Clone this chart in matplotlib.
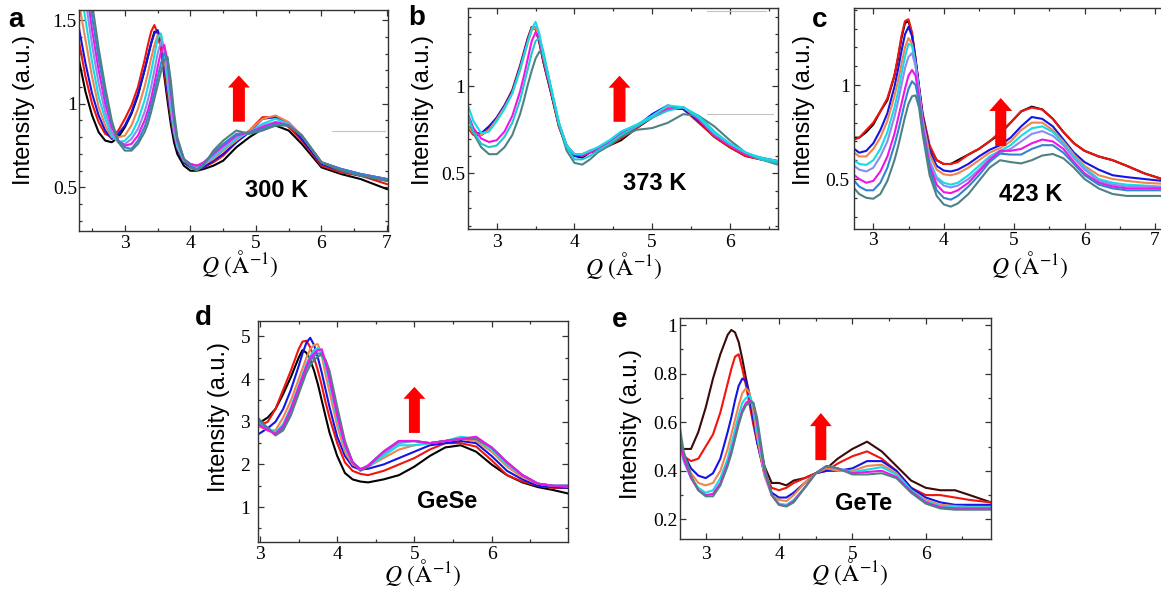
import matplotlib
matplotlib.use("Agg")
import matplotlib.pyplot as plt
from matplotlib.ticker import MultipleLocator, FixedLocator, FuncFormatter

# ---------------- data ----------------
# panel a : 300 K
Q_A = [2.3, 2.4, 2.5, 2.6, 2.7, 2.8, 2.9, 3.0, 3.1, 3.2, 3.3, 3.35, 3.4, 3.45, 3.5,
       3.55, 3.6, 3.65, 3.7, 3.75, 3.8, 3.9, 4.0, 4.1, 4.2, 4.35, 4.5, 4.7, 4.9, 5.1,
       5.3, 5.5, 5.7, 6.0, 6.3, 6.6, 7.0]
a_black = [1.26, 1.07, 0.93, 0.83, 0.78, 0.77, 0.80, 0.86, 0.94, 1.05, 1.20, 1.28, 1.36, 1.43, 1.43,
           1.33, 1.17, 1.02, 0.88, 0.77, 0.70, 0.63, 0.60, 0.60, 0.61, 0.63, 0.66, 0.74, 0.80, 0.85,
           0.87, 0.84, 0.76, 0.62, 0.58, 0.55, 0.49]
a_red = [1.37, 1.16, 1.00, 0.89, 0.82, 0.80, 0.84, 0.91, 0.99, 1.10, 1.26, 1.35, 1.43, 1.47, 1.42,
         1.33, 1.20, 1.06, 0.92, 0.81, 0.73, 0.65, 0.62, 0.61, 0.62, 0.65, 0.69, 0.77, 0.84, 0.92,
         0.92, 0.86, 0.78, 0.63, 0.59, 0.57, 0.52]
a_blue = [1.45, 1.24, 1.06, 0.93, 0.84, 0.79, 0.82, 0.87, 0.95, 1.06, 1.20, 1.28, 1.36, 1.42, 1.44,
          1.38, 1.24, 1.08, 0.93, 0.81, 0.73, 0.65, 0.62, 0.61, 0.62, 0.66, 0.70, 0.77, 0.83, 0.91,
          0.92, 0.88, 0.79, 0.64, 0.60, 0.57, 0.54]
a_orange = [1.60, 1.38, 1.16, 0.98, 0.87, 0.80, 0.80, 0.81, 0.87, 0.97, 1.10, 1.18, 1.27, 1.35, 1.41,
            1.40, 1.28, 1.12, 0.96, 0.83, 0.74, 0.66, 0.63, 0.63, 0.64, 0.67, 0.72, 0.78, 0.84, 0.91,
            0.93, 0.89, 0.81, 0.65, 0.61, 0.58, 0.54]
a_cyan = [1.75, 1.50, 1.25, 1.04, 0.91, 0.81, 0.77, 0.78, 0.82, 0.90, 1.02, 1.10, 1.19, 1.29, 1.39,
          1.42, 1.32, 1.15, 0.99, 0.85, 0.75, 0.66, 0.64, 0.63, 0.64, 0.68, 0.73, 0.79, 0.83, 0.88,
          0.91, 0.88, 0.81, 0.65, 0.61, 0.58, 0.55]
a_lavender = [1.90, 1.62, 1.35, 1.12, 0.95, 0.83, 0.77, 0.76, 0.79, 0.85, 0.95, 1.02, 1.10, 1.20, 1.30,
              1.37, 1.35, 1.20, 1.02, 0.87, 0.77, 0.67, 0.64, 0.63, 0.64, 0.69, 0.74, 0.80, 0.83, 0.87,
              0.89, 0.88, 0.81, 0.65, 0.61, 0.58, 0.55]
a_magenta = [2.00, 1.72, 1.44, 1.20, 1.00, 0.86, 0.78, 0.75, 0.76, 0.81, 0.90, 0.96, 1.03, 1.12, 1.22,
             1.31, 1.35, 1.26, 1.07, 0.90, 0.78, 0.67, 0.64, 0.63, 0.65, 0.70, 0.75, 0.81, 0.83, 0.86,
             0.89, 0.87, 0.81, 0.65, 0.61, 0.58, 0.55]
a_steel = [2.10, 1.80, 1.52, 1.27, 1.05, 0.88, 0.78, 0.74, 0.73, 0.78, 0.86, 0.92, 0.99, 1.07, 1.16,
           1.24, 1.30, 1.27, 1.10, 0.92, 0.79, 0.67, 0.63, 0.61, 0.64, 0.71, 0.76, 0.82, 0.83, 0.85,
           0.88, 0.87, 0.81, 0.65, 0.61, 0.58, 0.55]
a_gray = [2.20, 1.90, 1.60, 1.33, 1.10, 0.90, 0.77, 0.72, 0.72, 0.76, 0.83, 0.88, 0.95, 1.03, 1.11,
          1.19, 1.26, 1.28, 1.14, 0.95, 0.80, 0.67, 0.62, 0.60, 0.63, 0.72, 0.78, 0.84, 0.82, 0.84,
          0.87, 0.87, 0.81, 0.65, 0.60, 0.57, 0.54]

# panel b : 373 K
Q_B = [2.63, 2.7, 2.8, 2.9, 3.0, 3.1, 3.2, 3.3, 3.35, 3.4, 3.45, 3.5, 3.55, 3.6, 3.65,
       3.7, 3.8, 3.9, 4.0, 4.1, 4.2, 4.3, 4.45, 4.6, 4.8, 5.0, 5.2, 5.4, 5.6, 5.8,
       6.0, 6.2, 6.4, 6.62]
b_black = [0.77, 0.74, 0.72, 0.75, 0.81, 0.88, 0.97, 1.11, 1.19, 1.27, 1.34, 1.33, 1.25, 1.14, 1.05,
           0.96, 0.77, 0.65, 0.60, 0.59, 0.62, 0.63, 0.66, 0.69, 0.76, 0.82, 0.87, 0.87, 0.80, 0.71,
           0.65, 0.60, 0.58, 0.57]
b_red = [0.76, 0.72, 0.72, 0.76, 0.82, 0.89, 0.98, 1.12, 1.20, 1.28, 1.34, 1.33, 1.25, 1.14, 1.05,
         0.96, 0.77, 0.65, 0.60, 0.60, 0.62, 0.64, 0.66, 0.70, 0.76, 0.83, 0.88, 0.87, 0.79, 0.71,
         0.65, 0.60, 0.58, 0.56]
b_blue = [0.77, 0.73, 0.73, 0.77, 0.82, 0.89, 0.97, 1.11, 1.19, 1.27, 1.33, 1.34, 1.26, 1.15, 1.06,
          0.97, 0.78, 0.66, 0.60, 0.60, 0.63, 0.64, 0.67, 0.71, 0.77, 0.84, 0.89, 0.87, 0.80, 0.72,
          0.66, 0.61, 0.59, 0.57]
b_orange = [0.77, 0.73, 0.72, 0.75, 0.81, 0.88, 0.96, 1.09, 1.17, 1.25, 1.32, 1.34, 1.27, 1.16, 1.07,
            0.98, 0.78, 0.66, 0.61, 0.61, 0.63, 0.64, 0.67, 0.72, 0.77, 0.83, 0.88, 0.88, 0.81, 0.72,
            0.66, 0.61, 0.58, 0.57]
b_magenta = [0.84, 0.76, 0.70, 0.68, 0.69, 0.74, 0.83, 0.97, 1.06, 1.16, 1.26, 1.31, 1.28, 1.17, 1.07,
             0.98, 0.79, 0.66, 0.61, 0.60, 0.62, 0.64, 0.68, 0.73, 0.77, 0.82, 0.87, 0.88, 0.81, 0.72,
             0.66, 0.61, 0.58, 0.57]
b_cyan = [0.89, 0.80, 0.73, 0.74, 0.80, 0.87, 0.96, 1.10, 1.18, 1.26, 1.33, 1.37, 1.30, 1.18, 1.08,
          0.99, 0.79, 0.66, 0.61, 0.61, 0.63, 0.65, 0.69, 0.74, 0.78, 0.83, 0.89, 0.88, 0.82, 0.73,
          0.67, 0.62, 0.59, 0.57]
b_turq = [0.83, 0.74, 0.67, 0.65, 0.66, 0.71, 0.79, 0.92, 1.01, 1.10, 1.19, 1.26, 1.28, 1.20, 1.09,
          0.99, 0.79, 0.65, 0.58, 0.58, 0.60, 0.63, 0.67, 0.72, 0.77, 0.82, 0.86, 0.88, 0.83, 0.74,
          0.67, 0.62, 0.58, 0.56]
b_gray = [0.83, 0.73, 0.65, 0.61, 0.61, 0.65, 0.72, 0.84, 0.92, 1.01, 1.09, 1.16, 1.20, 1.18, 1.09,
          0.98, 0.78, 0.63, 0.56, 0.55, 0.58, 0.62, 0.66, 0.71, 0.75, 0.76, 0.79, 0.84, 0.83, 0.77,
          0.69, 0.62, 0.58, 0.55]

# panel c : 423 K
Q_C = [2.73, 2.8, 2.9, 3.0, 3.1, 3.2, 3.3, 3.35, 3.4, 3.45, 3.5, 3.55, 3.6, 3.65, 3.7,
       3.8, 3.9, 4.0, 4.1, 4.2, 4.35, 4.5, 4.65, 4.8, 4.95, 5.1, 5.25, 5.4, 5.55, 5.7,
       5.85, 6.0, 6.2, 6.4, 6.6, 6.85, 7.1]
c_black = [0.72, 0.72, 0.75, 0.79, 0.86, 0.92, 1.05, 1.14, 1.25, 1.33, 1.34, 1.27, 1.13, 0.98, 0.84,
           0.67, 0.60, 0.58, 0.58, 0.60, 0.63, 0.66, 0.70, 0.74, 0.80, 0.86, 0.885, 0.87, 0.82, 0.75,
           0.69, 0.65, 0.62, 0.60, 0.57, 0.53, 0.50]
c_red = [0.71, 0.72, 0.76, 0.80, 0.86, 0.93, 1.05, 1.15, 1.26, 1.34, 1.35, 1.28, 1.14, 0.99, 0.85,
         0.68, 0.60, 0.58, 0.58, 0.59, 0.63, 0.66, 0.70, 0.75, 0.80, 0.86, 0.88, 0.87, 0.82, 0.75,
         0.69, 0.65, 0.62, 0.60, 0.57, 0.53, 0.50]
c_blue = [0.66, 0.64, 0.65, 0.69, 0.76, 0.85, 0.99, 1.08, 1.18, 1.27, 1.31, 1.26, 1.14, 0.99, 0.84,
          0.65, 0.57, 0.545, 0.54, 0.55, 0.58, 0.62, 0.655, 0.68, 0.72, 0.78, 0.83, 0.82, 0.78, 0.71,
          0.64, 0.59, 0.55, 0.52, 0.51, 0.50, 0.49]
c_orange = [0.64, 0.62, 0.62, 0.66, 0.72, 0.81, 0.94, 1.02, 1.11, 1.20, 1.25, 1.22, 1.11, 0.97, 0.82,
            0.63, 0.55, 0.525, 0.52, 0.53, 0.56, 0.60, 0.64, 0.665, 0.70, 0.76, 0.80, 0.80, 0.76, 0.70,
            0.63, 0.57, 0.52, 0.50, 0.49, 0.48, 0.475]
c_cyan = [0.60, 0.58, 0.575, 0.60, 0.66, 0.75, 0.88, 0.96, 1.06, 1.15, 1.22, 1.21, 1.11, 0.96, 0.80,
          0.60, 0.51, 0.48, 0.47, 0.48, 0.52, 0.57, 0.62, 0.65, 0.68, 0.73, 0.77, 0.78, 0.75, 0.69,
          0.62, 0.56, 0.50, 0.48, 0.47, 0.465, 0.46]
c_lavender = [0.57, 0.55, 0.54, 0.56, 0.62, 0.70, 0.83, 0.91, 1.00, 1.09, 1.15, 1.17, 1.10, 0.96, 0.80,
              0.59, 0.50, 0.465, 0.455, 0.465, 0.50, 0.55, 0.61, 0.64, 0.66, 0.70, 0.74, 0.755, 0.73, 0.68,
              0.61, 0.55, 0.49, 0.47, 0.46, 0.46, 0.455]
c_magenta = [0.52, 0.50, 0.48, 0.49, 0.54, 0.62, 0.74, 0.82, 0.90, 0.98, 1.05, 1.08, 1.05, 0.93, 0.78,
             0.57, 0.47, 0.43, 0.425, 0.44, 0.48, 0.54, 0.60, 0.65, 0.65, 0.66, 0.69, 0.71, 0.70, 0.66,
             0.59, 0.53, 0.48, 0.46, 0.45, 0.45, 0.45]
c_steel = [0.49, 0.46, 0.44, 0.44, 0.48, 0.56, 0.68, 0.75, 0.83, 0.91, 0.98, 1.02, 1.00, 0.91, 0.76,
           0.55, 0.44, 0.40, 0.39, 0.41, 0.46, 0.52, 0.59, 0.635, 0.63, 0.63, 0.66, 0.68, 0.68, 0.64,
           0.58, 0.52, 0.47, 0.45, 0.44, 0.44, 0.44]
c_gray = [0.45, 0.42, 0.40, 0.395, 0.42, 0.49, 0.60, 0.67, 0.75, 0.83, 0.90, 0.94, 0.945, 0.88, 0.74,
          0.52, 0.41, 0.365, 0.353, 0.37, 0.42, 0.49, 0.56, 0.60, 0.59, 0.583, 0.60, 0.625, 0.633, 0.61,
          0.56, 0.50, 0.45, 0.42, 0.41, 0.41, 0.41]

# panel d : GeSe
Q_D = [2.97, 3.1, 3.2, 3.3, 3.4, 3.5, 3.55, 3.6, 3.65, 3.7, 3.75, 3.8, 3.85, 3.9, 4.0,
       4.1, 4.2, 4.3, 4.4, 4.6, 4.8, 5.0, 5.2, 5.4, 5.6, 5.8, 6.0, 6.2, 6.4, 6.6,
       6.8, 6.99]
d_black = [2.95, 3.10, 3.30, 3.65, 4.05, 4.50, 4.68, 4.62, 4.45, 4.20, 3.88, 3.50, 3.12, 2.75, 2.20,
           1.80, 1.65, 1.60, 1.58, 1.65, 1.75, 1.95, 2.20, 2.40, 2.45, 2.30, 2.00, 1.75, 1.58, 1.47,
           1.40, 1.32]
d_red = [2.90, 3.00, 3.30, 3.75, 4.20, 4.70, 4.88, 4.90, 4.75, 4.50, 4.20, 3.85, 3.45, 3.10, 2.50,
         2.05, 1.85, 1.78, 1.75, 1.85, 2.00, 2.15, 2.35, 2.50, 2.50, 2.42, 2.10, 1.75, 1.60, 1.50,
         1.45, 1.45]
d_blue = [2.70, 2.85, 3.00, 3.30, 3.75, 4.30, 4.60, 4.85, 4.97, 4.80, 4.50, 4.15, 3.75, 3.35, 2.65,
          2.20, 1.95, 1.88, 1.90, 2.00, 2.15, 2.30, 2.45, 2.50, 2.55, 2.50, 2.20, 1.85, 1.65, 1.50,
          1.47, 1.45]
d_orange = [2.90, 2.80, 2.80, 3.10, 3.50, 4.00, 4.25, 4.50, 4.70, 4.80, 4.82, 4.55, 4.10, 3.70, 2.90,
            2.30, 2.00, 1.90, 1.95, 2.15, 2.35, 2.45, 2.50, 2.55, 2.60, 2.55, 2.30, 1.95, 1.70, 1.55,
            1.50, 1.48]
d_cyan = [3.00, 2.85, 2.75, 2.95, 3.35, 3.85, 4.10, 4.35, 4.55, 4.68, 4.73, 4.60, 4.30, 3.90, 3.05,
          2.40, 2.05, 1.90, 1.95, 2.20, 2.45, 2.45, 2.50, 2.55, 2.65, 2.60, 2.35, 2.00, 1.75, 1.55,
          1.50, 1.50]
d_lavender = [2.95, 2.85, 2.73, 2.90, 3.30, 3.80, 4.05, 4.30, 4.50, 4.65, 4.70, 4.62, 4.35, 3.95, 3.10,
              2.42, 2.05, 1.88, 1.95, 2.25, 2.50, 2.55, 2.50, 2.55, 2.62, 2.60, 2.38, 2.02, 1.75, 1.55,
              1.50, 1.50]
d_magenta = [2.95, 2.80, 2.72, 2.90, 3.30, 3.80, 4.05, 4.30, 4.50, 4.60, 4.68, 4.70, 4.40, 4.00, 3.15,
             2.45, 2.05, 1.88, 1.97, 2.30, 2.55, 2.55, 2.50, 2.55, 2.60, 2.65, 2.40, 2.05, 1.75, 1.55,
             1.50, 1.50]
d_steel = [3.05, 2.85, 2.70, 2.85, 3.25, 3.75, 4.00, 4.25, 4.42, 4.55, 4.60, 4.60, 4.40, 4.10, 3.25,
           2.50, 2.05, 1.88, 1.98, 2.30, 2.55, 2.55, 2.50, 2.55, 2.60, 2.60, 2.40, 2.05, 1.75, 1.55,
           1.50, 1.50]
d_gray = [3.10, 2.85, 2.68, 2.80, 3.15, 3.65, 3.90, 4.15, 4.32, 4.45, 4.53, 4.57, 4.45, 4.20, 3.35,
          2.55, 2.05, 1.85, 1.95, 2.30, 2.55, 2.55, 2.50, 2.55, 2.60, 2.60, 2.40, 2.05, 1.75, 1.55,
          1.50, 1.50]

# panel e : GeTe
Q_E = [2.65, 2.7, 2.8, 2.9, 3.0, 3.1, 3.2, 3.3, 3.35, 3.4, 3.45, 3.5, 3.55, 3.6, 3.65,
       3.7, 3.8, 3.9, 4.0, 4.1, 4.2, 4.35, 4.5, 4.65, 4.8, 5.0, 5.2, 5.4, 5.6, 5.8,
       6.0, 6.2, 6.4, 6.6, 6.89]
e_brown = [0.50, 0.49, 0.49, 0.56, 0.66, 0.78, 0.88, 0.96, 0.98, 0.97, 0.93, 0.86, 0.78, 0.71, 0.63,
           0.56, 0.42, 0.35, 0.35, 0.34, 0.36, 0.37, 0.39, 0.41, 0.45, 0.49, 0.52, 0.48, 0.42, 0.36,
           0.33, 0.32, 0.32, 0.30, 0.27]
e_red = [0.50, 0.46, 0.44, 0.45, 0.50, 0.55, 0.64, 0.76, 0.82, 0.87, 0.88, 0.82, 0.75, 0.67, 0.59,
         0.52, 0.39, 0.33, 0.32, 0.33, 0.35, 0.37, 0.39, 0.40, 0.43, 0.46, 0.48, 0.45, 0.40, 0.33,
         0.30, 0.30, 0.29, 0.28, 0.27]
e_blue = [0.52, 0.47, 0.41, 0.38, 0.37, 0.39, 0.45, 0.56, 0.62, 0.69, 0.75, 0.78, 0.77, 0.70, 0.61,
          0.52, 0.39, 0.31, 0.29, 0.29, 0.31, 0.35, 0.39, 0.40, 0.40, 0.41, 0.44, 0.44, 0.40, 0.33,
          0.29, 0.27, 0.26, 0.26, 0.26]
e_orange = [0.51, 0.46, 0.39, 0.35, 0.34, 0.35, 0.40, 0.49, 0.55, 0.61, 0.67, 0.72, 0.74, 0.72, 0.64,
            0.54, 0.38, 0.30, 0.28, 0.275, 0.30, 0.35, 0.39, 0.41, 0.40, 0.40, 0.42, 0.425, 0.39, 0.32,
            0.28, 0.26, 0.255, 0.25, 0.25]
e_cyan = [0.50, 0.44, 0.37, 0.33, 0.31, 0.32, 0.37, 0.45, 0.51, 0.57, 0.63, 0.68, 0.70, 0.71, 0.67,
          0.57, 0.39, 0.30, 0.265, 0.26, 0.28, 0.33, 0.39, 0.42, 0.41, 0.395, 0.405, 0.415, 0.385, 0.32,
          0.275, 0.255, 0.25, 0.25, 0.25]
e_magenta = [0.52, 0.45, 0.37, 0.32, 0.30, 0.305, 0.35, 0.43, 0.48, 0.54, 0.60, 0.65, 0.68, 0.69, 0.68,
             0.60, 0.40, 0.30, 0.26, 0.255, 0.275, 0.33, 0.39, 0.42, 0.41, 0.39, 0.395, 0.40, 0.375, 0.315,
             0.27, 0.25, 0.245, 0.245, 0.245]
e_gray = [0.575, 0.48, 0.38, 0.32, 0.295, 0.295, 0.34, 0.42, 0.47, 0.53, 0.59, 0.64, 0.67, 0.68, 0.68,
          0.62, 0.42, 0.30, 0.26, 0.253, 0.27, 0.33, 0.39, 0.42, 0.41, 0.385, 0.385, 0.39, 0.37, 0.31,
          0.265, 0.245, 0.24, 0.24, 0.24]

LETTERS = ["a", "b", "c", "d", "e"]
TAGS = ["300 K", "373 K", "423 K", "GeSe", "GeTe"]

# ---------------- styles ----------------
BLACK, RED, BLUE, ORANGE = "#000000", "#f0140c", "#1414e6", "#f0844e"
CYAN, LAVENDER, MAGENTA = "#14dce6", "#8c8cf0", "#f014e6"
STEEL, GRAY, TURQ, BROWN = "#3284d2", "#4e8282", "#1ec8d2", "#3c0a0a"

W, H = 1161, 589
plt.rcParams["font.family"] = "Liberation Serif"
plt.rcParams["mathtext.fontset"] = "stix"

fig = plt.figure(figsize=(W / 100, H / 100), dpi=100)


def px_rect(left, top, right, bottom):
    return [left / W, 1 - bottom / H, (right - left) / W, (bottom - top) / H]


# label centres are given in figure pixels (x, y from top-left)
panels = [
    dict(rect=px_rect(79, 10, 388, 231), q=Q_A, xlim=(2.30, 7.015), ylim=(0.24, 1.56),
         curves=[(a_black, BLACK), (a_red, RED), (a_blue, BLUE), (a_orange, ORANGE),
                 (a_cyan, CYAN), (a_lavender, LAVENDER), (a_magenta, MAGENTA),
                 (a_steel, STEEL), (a_gray, GRAY)],
         xmaj=[3, 4, 5, 6, 7], ymaj=[0.5, 1, 1.5], ymin=0.1, xpad=2.6, ypad=1.5,
         ylab=(24, 110), xlab=(240, 264), letter=(8, 27), right=True,
         tag=(5.31, 0.48), arrow=(4.74, 0.893, 1.169, 0.183, 0.336, 0.072),
         extra=[([6.16, 6.97], [0.835, 0.835])]),
    dict(rect=px_rect(468, 8, 778, 229), q=Q_B, xlim=(2.63, 6.62), ylim=(0.18, 1.45),
         curves=[(b_black, BLACK), (b_red, RED), (b_blue, BLUE), (b_orange, ORANGE),
                 (b_magenta, MAGENTA), (b_gray, GRAY), (b_turq, TURQ), (b_cyan, CYAN)],
         xmaj=[3, 4, 5, 6], ymaj=[0.5, 1], ymin=0.1, xpad=3.3, ypad=2,
         ylab=(422.5, 110), xlab=(624, 266), letter=(408, 25), right=True,
         tag=(5.03, 0.44), arrow=(4.58, 0.796, 1.061, 0.154, 0.283, 0.069),
         extra=[([5.7, 6.47], [1.43, 1.43]), ([5.7, 6.55], [0.84, 0.84])]),
    dict(rect=px_rect(854, 8, 1162, 229), q=Q_C, xlim=(2.726, 7.1), ylim=(0.234, 1.41),
         curves=[(c_black, BLACK), (c_red, RED), (c_blue, BLUE), (c_orange, ORANGE),
                 (c_cyan, CYAN), (c_lavender, LAVENDER), (c_magenta, MAGENTA),
                 (c_steel, STEEL), (c_gray, GRAY)],
         xmaj=[3, 4, 5, 6, 7], ymaj=[0.5, 1], ymin=0.1, xpad=1.9, ypad=3,
         ylab=(804, 110), xlab=(1030, 265), letter=(812, 27), right=False,
         tag=(5.24, 0.42), arrow=(4.81, 0.676, 0.931, 0.157, 0.327, 0.069),
         extra=[]),
    dict(rect=px_rect(257.7, 320.7, 568, 541.7), q=Q_D, xlim=(2.97, 6.99), ylim=(0.19, 5.37),
         curves=[(d_black, BLACK), (d_red, RED), (d_blue, BLUE), (d_orange, ORANGE),
                 (d_lavender, LAVENDER), (d_cyan, CYAN), (d_steel, STEEL), (d_gray, GRAY),
                 (d_magenta, MAGENTA)],
         xmaj=[3, 4, 5, 6], ymaj=[1, 2, 3, 4, 5], ymin=0.5, xpad=2.8, ypad=5.5,
         ylab=(219, 417.5), xlab=(423, 573), letter=(195, 325), right=True,
         tag=(5.43, 1.14), arrow=(5.0, 2.74, 3.82, 0.142, 0.285, 0.28),
         extra=[]),
    dict(rect=px_rect(680, 318.3, 991, 539.3), q=Q_E, xlim=(2.65, 6.89), ylim=(0.118, 1.028),
         curves=[(e_brown, BROWN), (e_red, RED), (e_blue, BLUE), (e_orange, ORANGE),
                 (e_cyan, CYAN), (e_magenta, MAGENTA), (e_gray, GRAY)],
         xmaj=[3, 4, 5, 6], ymaj=[0.2, 0.4, 0.6, 0.8, 1.0], ymin=0.1, xpad=4.5, ypad=2,
         ylab=(631, 424), xlab=(850, 572), letter=(612, 327), right=True,
         tag=(5.15, 0.267), arrow=(4.57, 0.444, 0.638, 0.149, 0.297, 0.054),
         extra=[]),
]

fmt = FuncFormatter(lambda v, p: f"{v:g}")

for i, p in enumerate(panels):
    ax = fig.add_axes(p["rect"])
    for ys, col in p["curves"]:
        ax.plot(p["q"], ys, color=col, lw=1.5, solid_joinstyle="round")
    for xs, ys in p["extra"]:
        ax.plot(xs, ys, color="#c4c4c4", lw=0.8)

    xc, y0, y1, w, hw, hl = p["arrow"]
    ax.arrow(xc, y0, 0, y1 - y0, width=w, head_width=hw, head_length=hl,
             length_includes_head=True, fc="#ff0000", ec="none", zorder=5)

    ax.text(p["tag"][0], p["tag"][1], TAGS[i], fontsize=17, fontweight="bold",
            family="Liberation Sans", ha="center", va="center", zorder=6)

    ax.set_xlim(*p["xlim"])
    ax.set_ylim(*p["ylim"])
    ax.xaxis.set_major_locator(FixedLocator(p["xmaj"]))
    ax.xaxis.set_minor_locator(MultipleLocator(0.5))
    ax.yaxis.set_major_locator(FixedLocator(p["ymaj"]))
    ax.yaxis.set_minor_locator(MultipleLocator(p["ymin"]))
    ax.xaxis.set_major_formatter(fmt)
    ax.yaxis.set_major_formatter(fmt)
    ax.tick_params(which="both", direction="in", top=True, right=p["right"],
                   color="#333333", labelsize=14, width=0.9)
    ax.tick_params(which="major", length=4.5)
    ax.tick_params(which="minor", length=2.5)
    ax.tick_params(axis="x", pad=p["xpad"])
    ax.tick_params(axis="y", pad=p["ypad"])
    for s in ax.spines.values():
        s.set_color("#333333")
        s.set_linewidth(1.0)

    fig.text(p["ylab"][0] / W, 1 - p["ylab"][1] / H, "Intensity (a.u.)",
             family="Liberation Sans", fontsize=17, rotation=90, ha="center", va="center")
    fig.text(p["xlab"][0] / W, 1 - p["xlab"][1] / H, r"$Q\ (\mathrm{\AA}^{-1})$",
             fontsize=17, ha="center", va="center")

    fig.text(p["letter"][0] / W, 1 - p["letter"][1] / H, LETTERS[i], fontsize=20,
             fontweight="bold", family="Liberation Sans", ha="left", va="baseline")

fig.savefig("out.png", dpi=100)
